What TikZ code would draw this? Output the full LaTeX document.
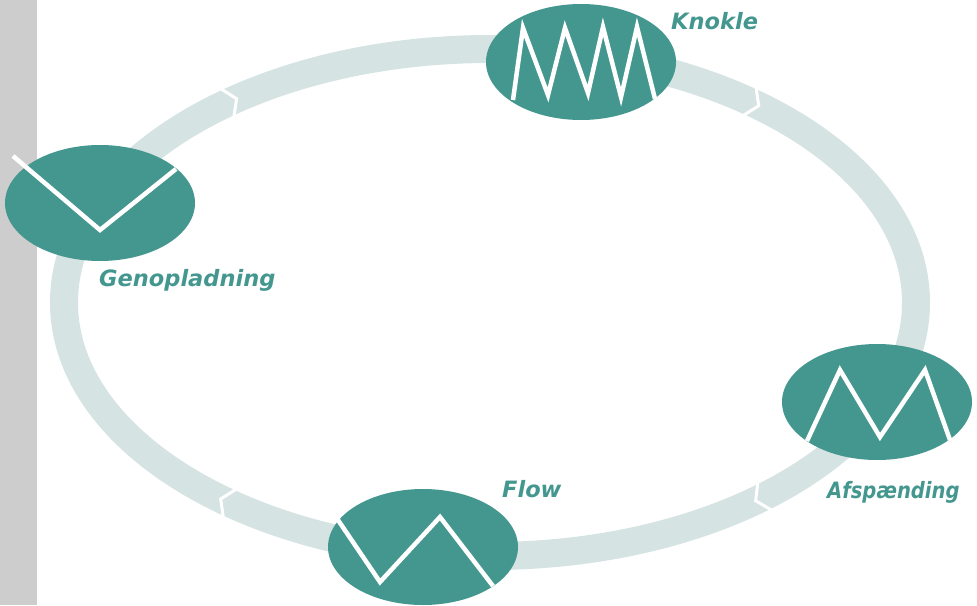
\documentclass[tikz,border=0pt]{standalone}
\usepackage{fontspec}
\setmainfont{DejaVu Sans}
\usetikzlibrary{calc,shapes.geometric}
\definecolor{tealc}{RGB}{68,151,143}
\definecolor{ringcol}{RGB}{214,227,227}
\definecolor{barc}{RGB}{206,205,205}
\tikzset{
  stage/.style={ellipse, fill=tealc, draw=none, minimum width=190pt, minimum height=116pt, inner sep=0pt},
  wave/.style={white, line width=4.5pt, line join=miter},
  lbl/.style={anchor=base west, text=tealc, inner sep=0pt, font=\fontsize{22.5}{26}\selectfont\bfseries\itshape},
  gap/.style={white, line width=3pt, line join=miter}
}
\newcommand\ringjoin[2]{%
  \coordinate (#2p) at ($(rc)+(#1:426 and 253.5)$);
  \coordinate (#2q) at ($(rc)+(#1+1:426 and 253.5)$);
  \coordinate (#2o) at ($(#2p)!17pt!90:(#2q)$);
  \coordinate (#2i) at ($(#2p)!17pt!-90:(#2q)$);
  \coordinate (#2a) at ($(#2p)!11pt!(#2q)$);
  \draw[gap] (#2o) -- (#2a) -- (#2i);
}
\begin{document}
\begin{tikzpicture}[x=1pt,y=-1pt]
\useasboundingbox (0,0) rectangle (977,605);
% grey bar
\fill[barc] (0,0) rectangle (37,605);
% ring
\coordinate (rc) at (490,302.5);
\draw[ringcol, line width=28pt] (rc) ellipse [x radius=426, y radius=253.5];
\ringjoin{231.8}{j1}
\ringjoin{307.4}{j2}
\ringjoin{49.7}{j3}
\ringjoin{127.5}{j4}
% stages
\node[stage] (knokle) at (581,62) {};
\node[stage] (genop) at (100,203) {};
\node[stage] (afsp) at (877,402) {};
\node[stage] (flow) at (423,547) {};
% waves
\draw[wave] (513,100) -- (523,28) -- (548,95) -- (565,28) -- (588,93) -- (603,27) -- (621,97) -- (637,27) -- (655,99);
\draw[wave] (13,156) -- (100,230) -- (176,169);
\draw[wave] (807,441) -- (840,370) -- (880,437) -- (925,370) -- (950,440);
\draw[wave] (338,520) -- (380,582) -- (440,517) -- (493,586);
% labels
\node[lbl] (tknokle) at (671,29) {Knokle};
\node[lbl] (tgenop) at (99,286) {Genopladning};
\node[lbl, xscale=0.87, transform shape] (tafsp) at (827,498) {Afspænding};
\node[lbl] (tflow) at (502,497) {Flow};
\end{tikzpicture}
\end{document}
